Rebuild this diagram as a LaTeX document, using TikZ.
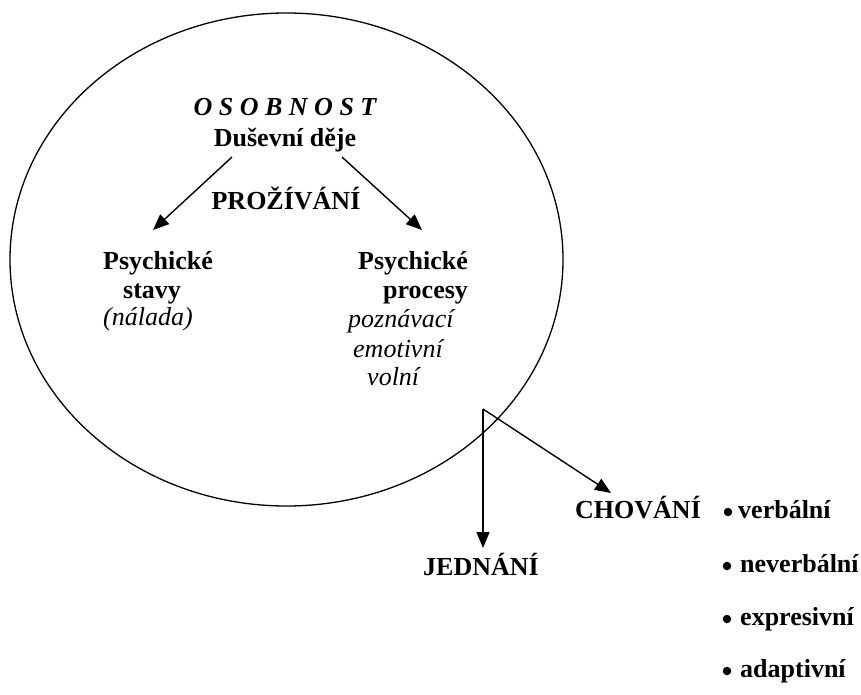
\documentclass[tikz,border=0pt]{standalone}
\usepackage{fontspec}
\setmainfont{Liberation Serif}
\usetikzlibrary{arrows.meta}
\begin{document}
\begin{tikzpicture}[x=1pt,y=-1pt,
  txt/.style={font=\fontsize{26}{28}\selectfont\bfseries, inner sep=0pt},
  itx/.style={font=\fontsize{26}{28}\selectfont\itshape, inner sep=0pt},
  bul/.style={circle, fill=black, inner sep=0pt, minimum size=8.5pt},
  arr/.style={line width=1.4pt, -{Triangle[length=16pt,width=13pt]}},
  oval/.style={line width=1.3pt}]
\useasboundingbox (0,0) rectangle (861,695);
\draw[oval] (286.5,259.5) ellipse [x radius=276.5pt, y radius=246.5pt];

\node[txt, anchor=base] (osob) at (285,116) {\bfseries\itshape O S O B N O S T};
\node[txt, anchor=base] (dus) at (285,147) {Duševní děje};
\node[txt, anchor=base] (proz) at (286,209) {PROŽÍVÁNÍ};

\node[txt, anchor=base west] (psL) at (103,269) {Psychické};
\node[txt, anchor=base west] (stavy) at (123,298) {stavy};
\node[itx, anchor=base west] (nal) at (103,325) {(nálada)};

\node[txt, anchor=base west] (psR) at (358,269) {Psychické};
\node[txt, anchor=base west] (proc) at (383,298) {procesy};
\node[itx, anchor=base west] (pozn) at (348,327) {poznávací};
\node[itx, anchor=base west] (emo) at (353,357) {emotivní};
\node[itx, anchor=base west] (vol) at (367,385) {volní};

\coordinate (dL) at (232,157);
\coordinate (dR) at (342,157);
\coordinate (tipL) at (153,230);
\coordinate (tipR) at (422,230);
\draw[arr] (dL) -- (tipL);
\draw[arr] (dR) -- (tipR);

\coordinate (fork) at (483,409);
\coordinate (tipJ) at (483,548);
\coordinate (tipC) at (611,493);
\draw[arr] (fork) -- (tipJ);
\draw[arr] (fork) -- (tipC);

\node[txt, anchor=base] (jed) at (481,575) {JEDNÁNÍ};
\node[txt, anchor=base west] (chov) at (575,518) {CHOVÁNÍ};

\node[bul] (b1) at (728,512) {};
\node[bul] (b2) at (727,566) {};
\node[bul] (b3) at (727,619) {};
\node[bul] (b4) at (727,671) {};
\node[txt, anchor=base west] (verb) at (738,518) {verbální};
\node[txt, anchor=base west] (nev) at (740,572) {neverbální};
\node[txt, anchor=base west] (exp) at (740,625) {expresivní};
\node[txt, anchor=base west] (adap) at (740,677) {adaptivní};
\end{tikzpicture}
\end{document}
